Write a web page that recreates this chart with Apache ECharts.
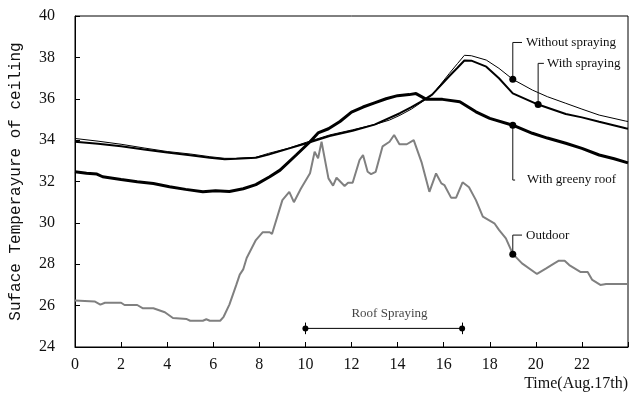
<!DOCTYPE html>
<html><head><meta charset="utf-8">
<script src="https://cdn.jsdelivr.net/npm/echarts@6/dist/echarts.min.js"></script>
<style>html,body{margin:0;padding:0;background:#fff}#c{width:632px;height:396px}</style>
</head><body><div id="c"></div>
<script>
// ---- data ----
const xTicks = [0,2,4,6,8,10,12,14,16,18,20,22];
const outdoorHours = [0,0.85,1.1,1.3,2.0,2.15,2.7,2.95,3.4,3.9,4.25,4.85,5.0,5.55,5.7,5.85,6.3,6.45,6.7,7.0,7.15,7.3,7.45,7.85,8.15,8.45,8.55,9.0,9.3,9.5,9.8,10.2,10.4,10.55,10.7,11.0,11.2,11.35,11.7,11.85,12.05,12.35,12.5,12.7,12.85,13.05,13.35,13.65,13.85,14.08,14.4,14.7,15.05,15.38,15.67,15.9,16.03,16.32,16.54,16.82,17.1,17.4,17.7,18.2,18.4,18.7,19.0,19.4,20.05,20.45,20.8,21.0,21.25,21.45,21.95,22.25,22.45,22.8,23.05,24];
const outdoorTemps = [26.25,26.2,26.05,26.14,26.14,26.03,26.03,25.87,25.87,25.68,25.4,25.35,25.27,25.27,25.34,25.27,25.27,25.46,26.05,27.0,27.5,27.75,28.3,29.17,29.55,29.55,29.46,31.1,31.5,31.0,31.65,32.4,33.44,33.12,33.92,32.15,31.8,32.18,31.78,31.94,31.94,33.04,33.28,32.47,32.36,32.47,33.7,33.92,34.25,33.8,33.8,34.0,32.9,31.5,32.39,31.91,31.83,31.22,31.22,31.96,31.72,31.1,30.3,29.98,29.66,29.25,28.5,28.04,27.53,27.8,28.04,28.17,28.17,27.96,27.62,27.62,27.24,27.0,27.05,27.05];
const withoutHours = [0,1,2,3,4,5,5.85,6.5,7,7.85,8.4,9.3,10.05,11.05,12.05,13,13.65,14.1,14.6,15.0,15.5,16.25,16.6,16.9,17.2,17.85,18.4,19,19.85,20.5,21.3,22,22.75,23.9,24];
const withoutTemps = [34.08,33.95,33.8,33.62,33.45,33.33,33.2,33.12,33.12,33.17,33.36,33.62,33.9,34.25,34.5,34.75,34.97,35.2,35.5,35.8,36.18,37.23,37.7,38.1,38.08,37.87,37.47,36.94,36.42,36.1,35.78,35.5,35.21,34.92,34.9];
const withHours = [0,1,2,3,4,5,5.85,6.5,7,7.85,8.4,9.3,10.05,11.05,12.05,13,14.1,14.6,15.0,15.5,16.25,16.6,16.9,17.2,17.85,18.4,19,20.1,21.3,22,22.75,23.9,24];
const withTemps = [33.92,33.82,33.7,33.55,33.4,33.27,33.15,33.08,33.1,33.15,33.3,33.6,33.85,34.2,34.45,34.75,35.3,35.6,35.85,36.2,37.1,37.5,37.85,37.84,37.55,36.99,36.26,35.72,35.26,35.1,34.89,34.57,34.55];
const greenyHours = [0,0.5,0.95,1.2,2,2.7,3.4,4.1,4.8,5.55,6.1,6.7,7.3,7.85,8.45,8.9,9.6,10.2,10.55,11,11.5,12,12.5,13,13.5,14,14.5,14.8,15.25,15.95,16.7,17.4,18,19,19.85,20.5,21.3,22,22.75,23.4,24];
const greenyTemps = [32.47,32.4,32.36,32.23,32.1,31.99,31.9,31.75,31.62,31.5,31.55,31.52,31.65,31.85,32.23,32.55,33.28,33.92,34.35,34.55,34.9,35.35,35.6,35.8,36.0,36.15,36.2,36.25,35.97,35.97,35.86,35.37,35.05,34.72,34.33,34.1,33.85,33.6,33.28,33.1,32.9];
// annotation leaders (hour, temp): dot, elbow, end
const annWithout = [[19,36.94],[19,38.72],[19.4,38.72]];
const annWith = [[20.1,35.72],[20.1,37.71],[20.35,37.71]];
const annGreeny = [[19,34.72],[19,32.07],[19.1,32.07]];
const annOutdoor = [[19,28.48],[19,29.41],[19.4,29.41]];
const sprayRange = [[10,24.9],[16.8,24.9]];
const sprayLabelPos = [13.65,25.62];

const zip = (h,t) => h.map((v,i)=>[v,t[i]]);
const serif = 'Liberation Serif';

function leader(data, text, dist){
  return {type:'line', data: data.map((p,i)=>({value:p,
      symbol: i===0?'circle':'none', symbolSize: i===0?7:0})),
    showAllSymbol:true,
    endLabel:{show:true, distance:dist, formatter:text, color:'#111', fontFamily:serif, fontSize:13},
    lineStyle:{color:'#111', width:1}, itemStyle:{color:'#000'}, z:5, silent:true};
}

const chart = echarts.init(document.getElementById('c'));
chart.setOption({
  animation:false,
  grid:{left:75, right:4, top:16, bottom:49, show:true, borderColor:'#000', borderWidth:1},
  xAxis:{type:'value', min:0, max:24, interval:2,
    axisLine:{lineStyle:{color:'#000'}}, axisTick:{inside:true, length:5, lineStyle:{color:'#000'}},
    splitLine:{show:false},
    axisLabel:{color:'#111', fontFamily:serif, fontSize:16, margin:10,
      formatter:v=> xTicks.includes(v)? String(v):''},
    name:'Time(Aug.17th)', nameLocation:'end', nameGap:0,
    nameTextStyle:{color:'#111', fontFamily:serif, fontSize:16, align:'right', verticalAlign:'top', padding:[29,0,0,0]}},
  yAxis:{type:'value', min:24, max:40, interval:2,
    axisLine:{show:true, lineStyle:{color:'#000'}}, axisTick:{show:true, inside:true, length:5, lineStyle:{color:'#000'}},
    splitLine:{show:false},
    axisLabel:{color:'#111', fontFamily:serif, fontSize:16, margin:20},
    name:'Suface Temperayure of ceiling', nameLocation:'middle', nameGap:51,
    nameTextStyle:{color:'#111', fontFamily:'Liberation Mono', fontSize:16}},
  series:[
    {type:'line', data:zip(outdoorHours,outdoorTemps), showSymbol:false, lineStyle:{color:'#808080', width:2}, silent:true},
    {type:'line', data:zip(greenyHours,greenyTemps), showSymbol:false, lineStyle:{color:'#000', width:3}, silent:true},
    {type:'line', data:zip(withHours,withTemps), showSymbol:false, lineStyle:{color:'#000', width:2}, silent:true},
    {type:'line', data:zip(withoutHours,withoutTemps), showSymbol:false, lineStyle:{color:'#000', width:1}, silent:true},
    leader(annWithout,'Without spraying',4),
    leader(annWith,'With spraying',3),
    leader(annGreeny,'With greeny roof',12),
    leader(annOutdoor,'Outdoor',4),
    {type:'line', data:sprayRange, symbol:'circle', symbolSize:6, lineStyle:{color:'#000', width:1}, itemStyle:{color:'#000'}, silent:true,
      markLine:{silent:true, symbol:'none', label:{show:false}, lineStyle:{color:'#000', width:1, type:'solid'},
        data: sprayRange.map(p=>[{coord:[p[0],p[1]-0.28]},{coord:[p[0],p[1]+0.28]}])}},
    {type:'scatter', data:[{value:sprayLabelPos, label:{show:true, position:'inside', formatter:'Roof Spraying',
        color:'#111', fontFamily:serif, fontSize:13}}], symbolSize:0, silent:true}
  ]
});
</script></body></html>
